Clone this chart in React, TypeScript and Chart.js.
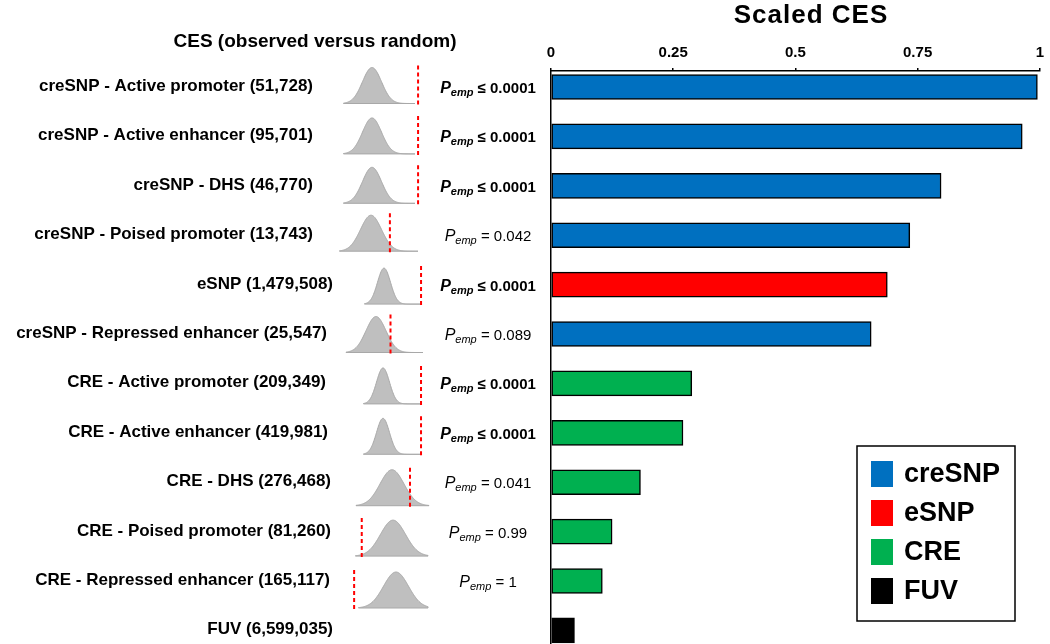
import React, { useEffect, useRef } from 'react';
import { Chart, registerables } from 'chart.js';
Chart.register(...registerables);

// ---------- data ----------
const categories = [
  'creSNP - Active promoter (51,728)',
  'creSNP - Active enhancer (95,701)',
  'creSNP - DHS (46,770)',
  'creSNP - Poised promoter (13,743)',
  'eSNP (1,479,508)',
  'creSNP - Repressed enhancer (25,547)',
  'CRE - Active promoter (209,349)',
  'CRE - Active enhancer (419,981)',
  'CRE - DHS (276,468)',
  'CRE - Poised promoter (81,260)',
  'CRE - Repressed enhancer (165,117)',
  'FUV (6,599,035)',
];
const scaledCES = [0.995, 0.964, 0.798, 0.734, 0.688, 0.655, 0.288, 0.27, 0.183, 0.125, 0.105, 0.048];
const groupOfRow = ['creSNP', 'creSNP', 'creSNP', 'creSNP', 'eSNP', 'creSNP', 'CRE', 'CRE', 'CRE', 'CRE', 'CRE', 'FUV'];
const legendLabels = ['creSNP', 'eSNP', 'CRE', 'FUV'];
const legendColors = ['#0070C0', '#FF0000', '#00B050', '#000000'];
const pOperators = ['≤', '≤', '≤', '=', '≤', '=', '≤', '≤', '=', '=', '='];
const pValues = ['0.0001', '0.0001', '0.0001', '0.042', '0.0001', '0.089', '0.0001', '0.0001', '0.041', '0.99', '1'];
// observed CES expressed in SDs of the random (null) distribution
const observedZ = [4.85, 4.85, 4.85, 1.8, 5.7, 1.45, 5.85, 5.85, 1.5, -2.5, -3.35];
const xTickLabels = ['0', '0.25', '0.5', '0.75', '1'];

// ---------- layout of the sketches (pixels) ----------
const labelRight = [313, 313, 313, 313, 333, 327, 326, 328, 331, 331, 330, 333];
const curveCenterX = [372, 372, 372, 371, 384, 376, 383, 383, 392, 393, 396];
const curveSigma = [9.5, 9.5, 9.5, 10.5, 6.5, 10, 6.5, 6.5, 12, 12.5, 12.5];
const curveRightEnd = [415, 415, 415, 418, 420, 423, 420, 420, 429, 428, 428];
const curveYOffset = [-1, 0, 0, -1.5, 2, 1, 3, 4, 6, 7, 9.5];

const FONT = '"Liberation Sans", Arial, sans-serif';

export default function App() {
  const ref = useRef<HTMLCanvasElement>(null);
  useEffect(() => {
    const canvas = ref.current!;
    const overlay = {
      id: 'overlay',
      afterDraw(chart: any) {
        const ctx = chart.ctx as CanvasRenderingContext2D;
        const yScale = chart.scales.y;
        ctx.save();
        ctx.fillStyle = '#000';
        // titles
        ctx.textAlign = 'center';
        ctx.textBaseline = 'alphabetic';
        ctx.font = `bold 26px ${FONT}`;
        (ctx as any).letterSpacing = '1px';
        ctx.fillText('Scaled CES', 811, 23);
        (ctx as any).letterSpacing = '0px';
        ctx.font = `bold 19px ${FONT}`;
        ctx.fillText('CES (observed versus random)', 315, 47);

        // category labels
        ctx.textAlign = 'right';
        ctx.font = `bold 17px ${FONT}`;
        categories.forEach((c, i) => {
          const y = yScale.getPixelForValue(i);
          ctx.fillText(c, labelRight[i], y + 4);
        });

        // null distributions with observed line
        for (let i = 0; i < observedZ.length; i++) {
          const yc = yScale.getPixelForValue(i) + curveYOffset[i];
          const base = yc + 17.5;
          const h = 36;
          const cx = curveCenterX[i];
          const s = curveSigma[i];
          const x0 = cx - 3 * s;
          const x1 = curveRightEnd[i];
          ctx.beginPath();
          ctx.moveTo(x0, base);
          for (let x = x0; x <= x1; x += 0.5) {
            ctx.lineTo(x, base - h * Math.exp(-0.5 * ((x - cx) / s) ** 2));
          }
          ctx.lineTo(x1, base);
          ctx.closePath();
          ctx.fillStyle = '#BFBFBF';
          ctx.fill();
          ctx.strokeStyle = '#A8A8A8';
          ctx.lineWidth = 1;
          ctx.stroke();

          const ox = cx + observedZ[i] * s;
          ctx.save();
          ctx.setLineDash([4, 3]);
          ctx.strokeStyle = '#FF0000';
          ctx.lineWidth = 2;
          ctx.beginPath();
          ctx.moveTo(ox, yc - 20.5);
          ctx.lineTo(ox, yc + 20.5);
          ctx.stroke();
          ctx.restore();
        }

        // p-values
        ctx.fillStyle = '#000';
        ctx.textAlign = 'left';
        for (let i = 0; i < pValues.length; i++) {
          const bold = pOperators[i] === '≤';
          const w = bold ? 'bold ' : '';
          const y = yScale.getPixelForValue(i) + 6;
          const fP = `italic ${w}16px ${FONT}`;
          const fS = `italic ${w}11px ${FONT}`;
          const fR = `${w}15px ${FONT}`;
          const rest = ` ${pOperators[i]} ${pValues[i]}`;
          ctx.font = fP; const wP = ctx.measureText('P').width;
          ctx.font = fS; const wS = ctx.measureText('emp').width;
          ctx.font = fR; const wR = ctx.measureText(rest).width;
          let x = 488 - (wP + wS + wR) / 2;
          ctx.font = fP; ctx.fillText('P', x, y); x += wP;
          ctx.font = fS; ctx.fillText('emp', x, y + 3); x += wS;
          ctx.font = fR; ctx.fillText(rest, x, y);
        }

        // legend
        const bx = 857, by = 446, bw = 158, bh = 175;
        ctx.fillStyle = '#fff';
        ctx.fillRect(bx, by, bw, bh);
        ctx.strokeStyle = '#000';
        ctx.lineWidth = 1.5;
        ctx.strokeRect(bx, by, bw, bh);
        ctx.font = `bold 27px ${FONT}`;
        ctx.textBaseline = 'middle';
        legendLabels.forEach((lab, k) => {
          const cy = 474 + k * 39;
          ctx.fillStyle = legendColors[k];
          ctx.fillRect(871, cy - 13, 22, 26);
          ctx.fillStyle = '#000';
          ctx.fillText(lab, 904, cy + 1);
        });
        ctx.restore();
      },
    };

    const chart = new Chart(canvas, {
      type: 'bar',
      data: {
        datasets: [
          {
            data: scaledCES.map((v, i) => ({ x: v, y: i })),
            backgroundColor: groupOfRow.map((g) => legendColors[legendLabels.indexOf(g)]),
            borderColor: '#000',
            borderWidth: 1.5,
            borderSkipped: false,
            barThickness: 25,
          },
        ],
      },
      options: {
        indexAxis: 'y',
        animation: false,
        responsive: false,
        layout: { padding: { left: 0, right: 3, top: 0, bottom: 0 } },
        plugins: { legend: { display: false }, tooltip: { enabled: false }, title: { display: false } },
        scales: {
          x: {
            type: 'linear',
            position: 'top',
            min: 0,
            max: 1,
            ticks: {
              stepSize: 0.25,
              color: '#000',
              padding: 6,
              font: { family: FONT, size: 15, weight: 'bold' },
              callback: (v: any) => xTickLabels[Math.round(Number(v) / 0.25)],
            },
            grid: { drawOnChartArea: false, drawTicks: true, tickLength: 3, color: '#000', lineWidth: 1.5 },
            border: { display: true, color: '#000', width: 1.5 },
            afterFit: (s: any) => { s.height = 71; },
          },
          y: {
            type: 'linear',
            reverse: true,
            offset: false,
            min: -0.324,
            max: 11.275,
            ticks: { display: false },
            grid: { display: false, offset: false },
            border: { display: true, color: '#000', width: 1.5 },
            afterFit: (s: any) => { s.width = 551; },
          },
        },
      },
      plugins: [overlay],
    } as any);
    return () => chart.destroy();
  }, []);
  return (
    <div style={{ position: 'fixed', left: 0, top: 0, width: 1050, height: 644, overflow: 'hidden', background: '#fff' }}>
      <canvas ref={ref} width={1050} height={644} style={{ width: 1050, height: 644, display: 'block' }} />
    </div>
  );
}
